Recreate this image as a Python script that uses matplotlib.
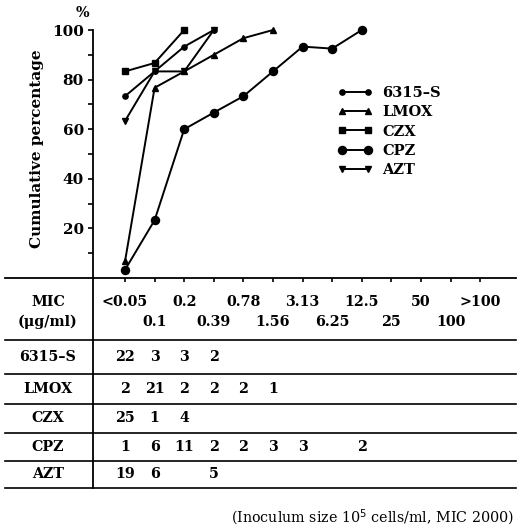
import numpy as np
from matplotlib import pyplot as plt

# MIC steps (ug/ml)
mic_labels = ['<0.05', '0.1', '0.2', '0.39', '0.78', '1.56', '3.13',
              '6.25', '12.5', '25', '50', '100', '>100']

drugs = ['6315\u2013S', 'LMOX', 'CZX', 'CPZ', 'AZT']

# cumulative percentage curves
cum_6315 = [73.3, 83.3, 93.3, 100]
cum_lmox = [6.7, 76.7, 83.3, 90.0, 96.7, 100]
cum_czx = [83.3, 86.7, 100]
cum_cpz = [3.3, 23.3, 60.0, 66.7, 73.3, 83.3, 93.3, 92.5, 100]
cum_azt = [63.3, 83.3, 83.3, 100]

# number of strains inhibited at each MIC step (None = empty cell)
cnt_6315 = [22, 3, 3, 2]
cnt_lmox = [2, 21, 2, 2, 2, 1]
cnt_czx = [25, 1, 4]
cnt_cpz = [1, 6, 11, 2, 2, 3, 3, None, 2]
cnt_azt = [19, 6, None, 5]

W, H = 520, 532
step = 29.6
x0 = 125
xlim = (-x0 / step, (W - x0) / step)
yaxis_x = (93 - x0) / step

fig = plt.figure(figsize=(W / 100, H / 100), dpi=100)
font = dict(family='DejaVu Serif', weight='bold', size=10.3)

# ---- curves ----
ax = fig.add_axes([0, 1 - 278 / H, 1, (278 - 20) / H])
ax.set_xlim(*xlim)
ax.set_ylim(0, 258 / 2.48)

styles = [('o', 3.8), ('^', 4.2), ('s', 4.8), ('o', 5.8), ('v', 4.2)]
for name, vals, (m, ms) in zip(drugs, [cum_6315, cum_lmox, cum_czx, cum_cpz, cum_azt], styles):
    ax.plot(np.arange(len(vals)), vals, color='black', lw=1.4, marker=m,
            ms=ms, mfc='black', mec='black', label=name, clip_on=False)

for s in ['top', 'right']:
    ax.spines[s].set_visible(False)
ax.spines['left'].set_position(('data', yaxis_x))
ax.spines['left'].set_bounds(0, 100)
ax.spines['left'].set_linewidth(1.3)
ax.spines['bottom'].set_bounds(-4.05, 13.2)
ax.spines['bottom'].set_linewidth(1.3)

ax.set_yticks([20, 40, 60, 80, 100])
ax.set_yticks([10, 30, 50, 70, 90], minor=True)
ax.tick_params(axis='y', which='both', direction='out', length=3.5, width=1.2, pad=3)
ax.set_yticklabels(['20', '40', '60', '80', '100'], fontdict=dict(font, size=11))
ax.set_xticks(np.arange(len(mic_labels)))
ax.set_xticklabels([])
ax.tick_params(axis='x', direction='out', length=3, width=1.2)

ax.set_ylabel('Cumulative percentage', fontdict=dict(font, size=11), labelpad=6)
fig.text(82 / W, 1 - 13 / H, '%', ha='center', va='center', **font)

ax.legend(loc='upper left', bbox_to_anchor=(330 / W, 1 - 79 / H),
          bbox_transform=fig.transFigure, frameon=False, numpoints=2,
          handlelength=2.4, handletextpad=0.7, labelspacing=0.35,
          borderpad=0, prop=dict(family='DejaVu Serif', weight='bold', size=10.5))

# ---- table ----
tb = fig.add_axes([0, 0, 1, (H - 278) / H])
tb.set_xlim(*xlim)
tb.set_ylim(H, 278)
tb.axis('off')

lbl_x = (48 - x0) / step
row_lines = [340, 374, 404, 433, 461, 488]
for y in row_lines:
    tb.plot([-4.05, 13.2], [y, y], color='black', lw=1.2)
tb.plot([yaxis_x, yaxis_x], [278, 488], color='black', lw=1.3)

tb.text(lbl_x, 302, 'MIC', ha='center', va='center', **font)
tb.text(lbl_x, 322, '(\u03bcg/ml)', ha='center', va='center', **font)
for i, lab in enumerate(mic_labels):
    tb.text(i, 302 if i % 2 == 0 else 322, lab, ha='center', va='center', **font)

row_y = [357, 389, 418, 447, 474]
counts = [cnt_6315, cnt_lmox, cnt_czx, cnt_cpz, cnt_azt]
for name, y, row in zip(drugs, row_y, counts):
    tb.text(lbl_x, y, name, ha='center', va='center', **font)
    for i, c in enumerate(row):
        if c is not None:
            tb.text(i, y, str(c), ha='center', va='center', **font)

tb.text((514 - x0) / step, 518, '(Inoculum size 10$^{5}$ cells/ml, MIC 2000)',
        ha='right', va='center', family='DejaVu Serif', size=10.3)

fig.savefig('out.png', dpi=100)
